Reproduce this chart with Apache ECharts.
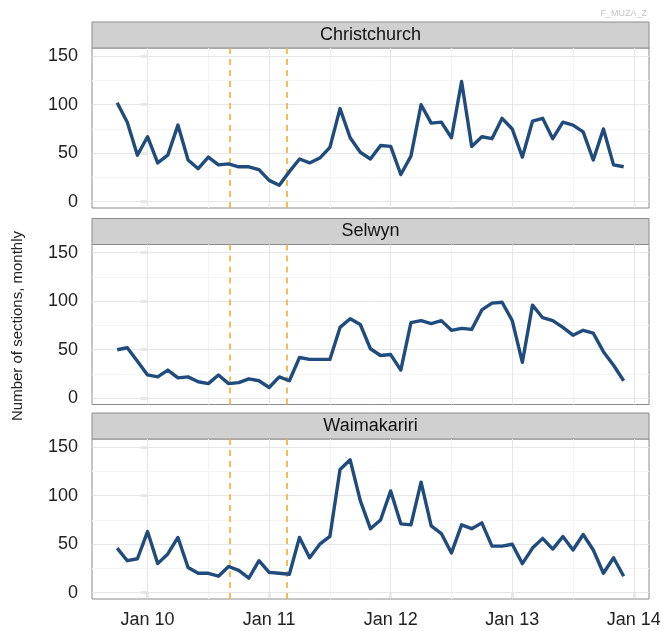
<!DOCTYPE html>
<html><head><meta charset="utf-8">
<script src="https://cdn.jsdelivr.net/npm/echarts@6/dist/echarts.min.js"></script>
<style>html,body{margin:0;padding:0;background:#fff}#c{width:661px;height:631px}</style>
</head><body><div id="c"></div>
<script>
const months = ['2009-10','2009-11','2009-12',
 '2010-01','2010-02','2010-03','2010-04','2010-05','2010-06','2010-07','2010-08','2010-09','2010-10','2010-11','2010-12',
 '2011-01','2011-02','2011-03','2011-04','2011-05','2011-06','2011-07','2011-08','2011-09','2011-10','2011-11','2011-12',
 '2012-01','2012-02','2012-03','2012-04','2012-05','2012-06','2012-07','2012-08','2012-09','2012-10','2012-11','2012-12',
 '2013-01','2013-02','2013-03','2013-04','2013-05','2013-06','2013-07','2013-08','2013-09','2013-10','2013-11','2013-12'];
const regions = ['Christchurch','Selwyn','Waimakariri'];
const christchurch = [102,82,48,67,40,48,79,43,34,46,38,39,36,36,33,22,17,31,44,40,45,56,96,66,51,44,58,57,28,47,100,81,82,66,124,57,67,65,86,75,46,83,86,65,82,79,72,43,75,38,36];
const selwyn = [50,52,38,24,22,29,21,22,17,15,24,15,16,20,18,11,22,18,42,40,40,40,73,82,76,51,44,45,29,78,80,77,80,70,72,71,91,98,99,80,37,96,83,80,73,65,70,67,48,34,18];
const waimakariri = [46,33,35,63,30,40,57,26,20,20,17,27,23,15,33,21,20,19,57,36,50,58,127,137,95,66,75,105,71,70,114,69,61,41,70,66,72,48,48,50,30,46,56,45,58,44,60,44,20,36,17];
const seriesValues = [christchurch, selwyn, waimakariri];
const tickMonths = ['2010-01','2011-01','2012-01','2013-01','2014-01'];
const tickLabels = ['Jan 10','Jan 11','Jan 12','Jan 13','Jan 14'];
const minorMonths = ['2010-07','2011-07','2012-07','2013-07'];
const eventDates = ['2010-09-04','2011-02-22'];
const yTicks = [0,50,100,150];
const yMinor = [25,75,125];
const xRange = ['2009-07-17','2014-02-15'];
const yRange = [-6.5, 158.5];

function toMonth(s){
  const p = s.split('-').map(Number);
  const y = p[0], m = p[1], d = p[2] || 1;
  const dim = new Date(y, m, 0).getDate();
  return (y-2010)*12 + (m-1) + (d-1)/dim;
}
const tickPos = tickMonths.map(toMonth);
const minorPos = minorMonths.map(toMonth);

const FONT = '"Liberation Sans", Arial, sans-serif';
const left = 92, width = 557, plotH = 160, stripH = 26;
const tops = [48, 244.5, 439];

const grids = [], xAxes = [], yAxes = [], series = [], graphics = [];
tops.forEach((t, i) => {
  grids.push({left: left, width: width, top: t, height: plotH, show: true, backgroundColor: '#fff',
    borderColor: '#8c8c8c', borderWidth: 1, containLabel: false, outerBoundsMode: 'none'});
  const last = i === tops.length - 1;
  xAxes.push({type: 'value', gridIndex: i, min: toMonth(xRange[0]), max: toMonth(xRange[1]),
    axisLine: {show: false}, splitLine: {show: false},
    axisTick: {show: last, customValues: tickPos, length: 6, inside: false, lineStyle: {color: '#222', width: 1.2}},
    axisLabel: {show: last, customValues: tickPos, margin: 12, fontSize: 18, color: '#222', fontFamily: FONT,
      formatter: v => { const k = tickPos.findIndex(p => Math.abs(p - v) < 1e-6); return k >= 0 ? tickLabels[k] : ''; }}});
  yAxes.push({type: 'value', gridIndex: i, min: yRange[0], max: yRange[1],
    axisLine: {show: false}, splitLine: {show: false},
    axisTick: {show: true, customValues: yTicks, length: 7, inside: false, lineStyle: {color: '#222', width: 1.2}},
    axisLabel: {show: true, customValues: yTicks, margin: 14, fontSize: 18, color: '#222', fontFamily: FONT}});
  const ml = [];
  minorPos.forEach(v => ml.push({xAxis: v, lineStyle: {color: '#f4f4f4', width: 1, type: 'solid'}}));
  yMinor.forEach(v => ml.push({yAxis: v, lineStyle: {color: '#f4f4f4', width: 1, type: 'solid'}}));
  tickPos.forEach(v => ml.push({xAxis: v, lineStyle: {color: '#e6e6e6', width: 1, type: 'solid'}}));
  yTicks.forEach(v => ml.push({yAxis: v, lineStyle: {color: '#e6e6e6', width: 1, type: 'solid'}}));
  eventDates.forEach(d => ml.push({xAxis: toMonth(d), lineStyle: {color: '#f3b23e', width: 1.7, type: [6, 5]}}));
  series.push({type: 'line', xAxisIndex: i, yAxisIndex: i, z: 3,
    data: months.map((m, j) => [toMonth(m), seriesValues[i][j]]),
    showSymbol: false, symbol: 'none', silent: true, animation: false,
    lineStyle: {color: '#1f4b7d', width: 3.4, join: 'round'},
    markLine: {z: 1, silent: true, animation: false, symbol: ['none','none'], label: {show: false},
      emphasis: {disabled: true}, data: ml}});
  graphics.push({type: 'rect', shape: {x: left, y: t - stripH, width: width, height: stripH},
    style: {fill: '#d0d0d0', stroke: '#8c8c8c', lineWidth: 1}});
  graphics.push({type: 'text', x: left + width/2, y: t - stripH/2,
    style: {text: regions[i], fill: '#111', font: '18px ' + FONT, align: 'center', verticalAlign: 'middle',
      textAlign: 'center', textVerticalAlign: 'middle'}});
});
graphics.push({type: 'text', x: 18, y: 326, rotation: Math.PI/2,
  style: {text: 'Number of sections, monthly', fill: '#222', font: '15px ' + FONT, align: 'center', verticalAlign: 'middle',
    textAlign: 'center', textVerticalAlign: 'middle'}});
graphics.push({type: 'text', x: 647, y: 14,
  style: {text: 'F_MUZA_Z', fill: '#c4c4c4', font: '9px ' + FONT, align: 'right', verticalAlign: 'middle',
    textAlign: 'right', textVerticalAlign: 'middle'}});

const chart = echarts.init(document.getElementById('c'), null, {renderer: 'canvas'});
chart.setOption({animation: false, backgroundColor: '#fff', grid: grids, xAxis: xAxes, yAxis: yAxes, series: series, graphic: graphics});
</script></body></html>
